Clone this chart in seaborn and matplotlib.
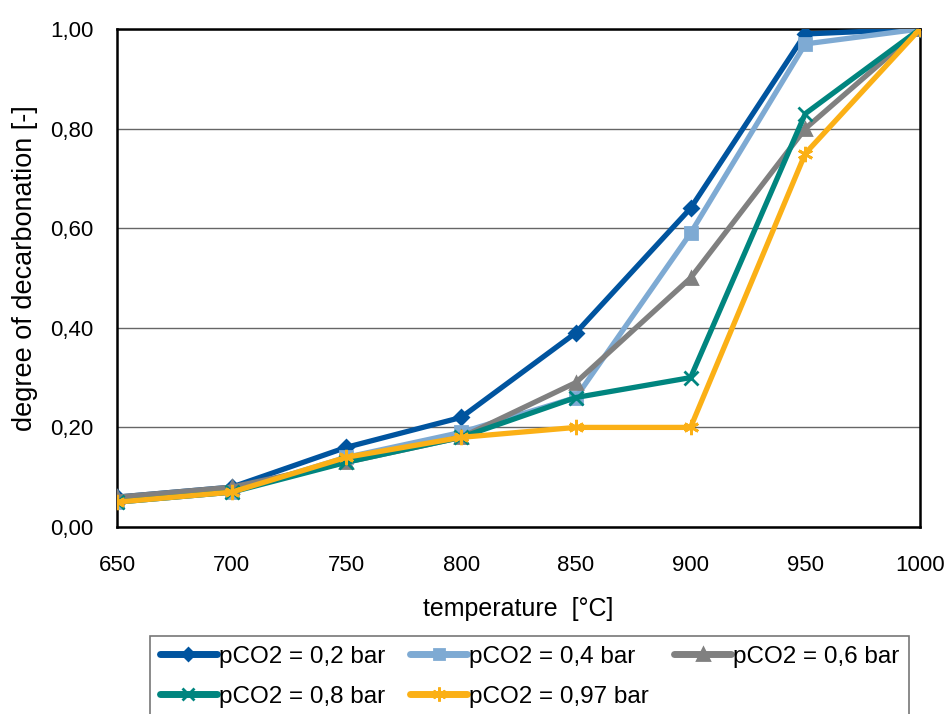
import numpy as np
import pandas as pd
import seaborn as sns
import matplotlib
matplotlib.use("Agg")
import matplotlib.pyplot as plt
from matplotlib.ticker import FuncFormatter
from matplotlib.lines import Line2D

temperature = [650, 700, 750, 800, 850, 900, 950, 1000]
series_labels = ["pCO2 = 0,2 bar", "pCO2 = 0,4 bar", "pCO2 = 0,6 bar",
                 "pCO2 = 0,8 bar", "pCO2 = 0,97 bar"]
p02 = [0.06, 0.08, 0.16, 0.22, 0.39, 0.64, 0.99, 1.00]
p04 = [0.05, 0.07, 0.14, 0.19, 0.26, 0.59, 0.97, 1.00]
p06 = [0.06, 0.08, 0.13, 0.18, 0.29, 0.50, 0.80, 1.00]
p08 = [0.05, 0.07, 0.13, 0.18, 0.26, 0.30, 0.83, 1.00]
p097 = [0.05, 0.07, 0.14, 0.18, 0.20, 0.20, 0.75, 1.00]
x_ticks = [650, 700, 750, 800, 850, 900, 950, 1000]
y_ticks = [0.0, 0.2, 0.4, 0.6, 0.8, 1.0]

colors = ["#00549f", "#7eaad3", "#808080", "#00857f", "#fbb016"]
markers = ["D", "s", "^", "x", (6, 2, 0)]
msizes = [7, 8, 9, 10, 11]

sns.set_style("white")
plt.rcParams['font.family'] = ['Liberation Sans', 'DejaVu Sans']
plt.rcParams['text.color'] = 'black'
plt.rcParams['axes.labelcolor'] = 'black'

fig = plt.figure(figsize=(9.48, 7.14), dpi=100)
ax = fig.add_axes([117/948, 1-527/714, (920-117)/948, (527-29)/714])

for lab, vals, c, m, ms in zip(series_labels, [p02, p04, p06, p08, p097],
                               colors, markers, msizes):
    sns.lineplot(x=temperature, y=vals, color=c, marker=m, markersize=ms,
                 markeredgecolor=c, markerfacecolor=c, markeredgewidth=2,
                 linewidth=3.8, ax=ax, zorder=3)

ax.set_xlim(650, 1000)
ax.set_ylim(0, 1.0)
ax.set_xticks(x_ticks)
ax.set_yticks(y_ticks)
ax.yaxis.set_major_formatter(FuncFormatter(lambda v, p: f"{v:.2f}".replace(".", ",")))
ax.grid(axis="y", color="#666666", linewidth=1)
ax.set_axisbelow(True)
for s in ax.spines.values():
    s.set_color("black")
    s.set_linewidth(1.8)
ax.tick_params(axis="both", direction="out", length=5, width=1, color="#808080",
               labelsize=16, labelcolor="black")
ax.tick_params(axis="x", pad=15)
ax.tick_params(axis="y", pad=12)
ax.set_xlabel("temperature  [°C]", fontsize=18, color="black")
ax.set_ylabel("degree of decarbonation [-]", fontsize=19.5, color="black")
ax.xaxis.set_label_coords(0.5, (527 - 597) / 498)
ax.yaxis.set_label_coords((38 - 117) / 803, 0.52)

handles = [Line2D([0], [0], color=c, marker=m, markersize=ms - 1, linewidth=5,
                  markeredgecolor=c, markerfacecolor=c, markeredgewidth=2)
           for c, m, ms in zip(colors, markers, msizes)]
order = [0, 3, 1, 4, 2]
leg = fig.legend([handles[i] for i in order], [series_labels[i] for i in order],
                 loc="upper left",
                 bbox_to_anchor=(150/948, 1-636/714, (909-150)/948, 0.0),
                 mode="expand", ncol=3, fontsize=17.5, frameon=True,
                 fancybox=False, edgecolor="#555555", handlelength=2.35,
                 handletextpad=0.08, borderpad=0.4, labelspacing=0.74,
                 columnspacing=0.8, borderaxespad=0, labelcolor="black")
leg.get_frame().set_linewidth(1.2)

fig.savefig("out.png", dpi=100)
